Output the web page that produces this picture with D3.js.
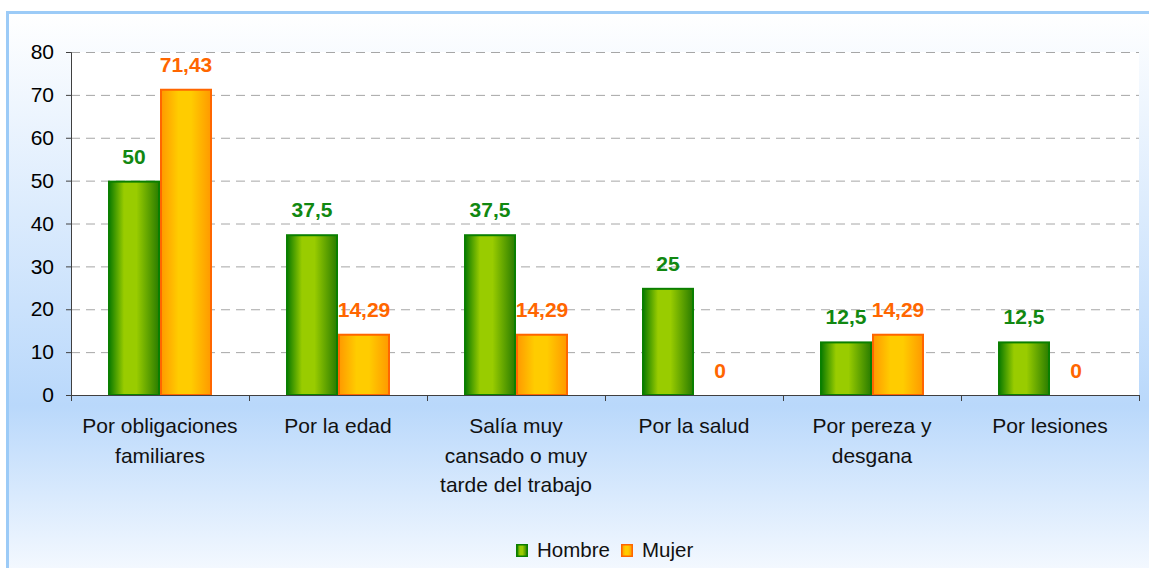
<!DOCTYPE html>
<html><head><meta charset="utf-8">
<script src="https://cdn.jsdelivr.net/npm/d3@7"></script>
<style>body{margin:0;background:#fff}svg{display:block;font-family:"Liberation Sans",Arial,sans-serif}</style>
</head><body><svg id="c" width="1149" height="568"></svg>
<script>
const categories = [
  ["Por obligaciones","familiares"],
  ["Por la edad"],
  ["Salía muy","cansado o muy","tarde del trabajo"],
  ["Por la salud"],
  ["Por pereza y","desgana"],
  ["Por lesiones"]
];
const seriesNames = ["Hombre","Mujer"];
const hombre = [50, 37.5, 37.5, 25, 12.5, 12.5];
const mujer = [71.43, 14.29, 14.29, 0, 14.29, 0];
const yTicks = [0,10,20,30,40,50,60,70,80];

(function(){
const svg = d3.select("#c");
const defs = svg.append("defs");
const bg = defs.append("linearGradient").attr("id","bg").attr("x1",0).attr("y1",0).attr("x2",0).attr("y2",1);
bg.append("stop").attr("offset","0%").attr("stop-color","#ffffff");
bg.append("stop").attr("offset","69%").attr("stop-color","#b9d8fb");
bg.append("stop").attr("offset","100%").attr("stop-color","#f8fbff");
const gg = defs.append("linearGradient").attr("id","gg").attr("x1",0).attr("y1",0).attr("x2",1).attr("y2",0);
[["0%","#0a7a00"],["30%","#99cc00"],["55%","#99cc00"],["100%","#2a7d00"]].forEach(s=>gg.append("stop").attr("offset",s[0]).attr("stop-color",s[1]));
const og = defs.append("linearGradient").attr("id","og").attr("x1",0).attr("y1",0).attr("x2",1).attr("y2",0);
[["0%","#ff9900"],["35%","#ffcc00"],["60%","#ffcc00"],["100%","#ff9900"]].forEach(s=>og.append("stop").attr("offset",s[0]).attr("stop-color",s[1]));

svg.append("rect").attr("x",7.5).attr("y",12.5).attr("width",1160).attr("height",570)
  .attr("fill","url(#bg)").attr("stroke","#9ccbf7").attr("stroke-width",3);

const pL=71, pR=1139, pT=52, pB=395;
svg.append("rect").attr("x",pL).attr("y",pT).attr("width",pR-pL).attr("height",pB-pT).attr("fill","#fff");

const x = d3.scaleBand().domain(d3.range(categories.length)).range([pL,pR]).paddingInner(0).paddingOuter(0);
const y = d3.scaleLinear().domain([0,80]).range([pB,pT]);
const bw = 52;

svg.append("g").selectAll("line").data(yTicks.filter(d=>d>0)).join("line")
  .attr("x1",pL).attr("x2",pR).attr("y1",d=>y(d)+0.5).attr("y2",d=>y(d)+0.5)
  .attr("stroke","#a6a6a6").attr("stroke-width",1).attr("stroke-dasharray","9,6");

const series = [{name:seriesNames[0],vals:hombre,fill:"url(#gg)",stroke:"#0a7f00",lab:"#118811"},
                {name:seriesNames[1],vals:mujer,fill:"url(#og)",stroke:"#ff6600",lab:"#ff6600"}];
const fmt = v => String(v).replace(".",",");
series.forEach((s,si)=>{
  const g = svg.append("g");
  const xpos = i => x(i)+x.bandwidth()/2 - bw + si*bw;
  g.selectAll("rect").data(s.vals).join("rect")
    .attr("x",(d,i)=>xpos(i)+1).attr("y",d=>y(d)+1).attr("width",bw-2).attr("height",d=>Math.max(0,y(0)-y(d)-1))
    .attr("fill",s.fill).attr("stroke",s.stroke).attr("stroke-width",2)
    .attr("display",d=>d>0?null:"none");
  g.selectAll("text").data(s.vals).join("text")
    .attr("x",(d,i)=>xpos(i)+bw/2).attr("y",d=>y(d)-17)
    .attr("text-anchor","middle").attr("font-size",21).attr("font-weight","bold").attr("fill",s.lab)
    .text(d=>fmt(d));
});

const ya = svg.append("g").attr("transform",`translate(${pL},0)`)
  .call(d3.axisLeft(y).tickValues(yTicks).tickSize(5).tickPadding(12));
ya.select(".domain").attr("stroke","#404040");
ya.selectAll(".tick line").attr("stroke","#404040");
ya.selectAll("text").attr("font-size",21).attr("fill","#000").attr("font-family","Liberation Sans, Arial, sans-serif");

const xb = d3.range(categories.length+1).map(i=> i<categories.length ? x(i) : pR);
svg.append("line").attr("x1",pL).attr("x2",pR).attr("y1",pB+0.5).attr("y2",pB+0.5).attr("stroke","#404040");
svg.append("g").selectAll("line").data(xb).join("line")
  .attr("x1",d=>d+0.5).attr("x2",d=>d+0.5).attr("y1",pB).attr("y2",pB+6).attr("stroke","#404040");

const cl = svg.append("g").selectAll("text").data(categories).join("text")
  .attr("text-anchor","middle").attr("font-size",21).attr("fill","#111")
  .attr("x",(d,i)=>x(i)+x.bandwidth()/2).attr("y",433);
cl.selectAll("tspan").data(d=>d).join("tspan")
  .attr("x",function(){return this.parentNode.getAttribute("x");})
  .attr("dy",(d,i)=>i===0?0:29.5).text(d=>d);

const lg = svg.append("g").attr("transform","translate(516,544)");
const lx = [0,105];
series.forEach((s,i)=>{
  lg.append("rect").attr("x",lx[i]+0.75).attr("y",0.75).attr("width",10.5).attr("height",11.5)
    .attr("fill",s.fill).attr("stroke",s.stroke).attr("stroke-width",1.5);
  lg.append("text").attr("x",lx[i]+21).attr("y",13).attr("font-size",20.5).attr("fill","#111").text(s.name);
});
})();
</script></body></html>
